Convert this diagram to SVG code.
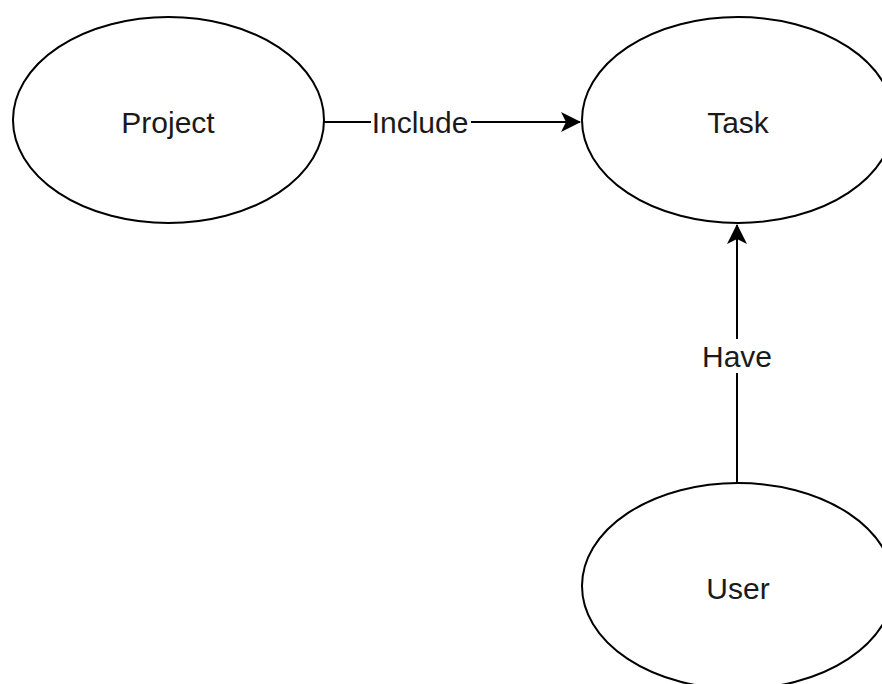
<svg xmlns="http://www.w3.org/2000/svg" width="882" height="684" viewBox="0 0 882 684">
  <style>
    .node ellipse { fill: #ffffff; stroke: #000000; stroke-width: 2; }
    .label { font-family: "Liberation Sans", Arial, sans-serif; font-size: 30px; fill: #1a1a1a; text-anchor: middle; dominant-baseline: central; }
    .edge { fill: none; stroke: #000000; stroke-width: 2; }
    .edge-label-bg { fill: #ffffff; }
  </style>
  <defs>
    <marker id="arrowBig" viewBox="0 0 20 20" refX="19" refY="10" markerWidth="20" markerHeight="20" markerUnits="userSpaceOnUse" orient="auto">
      <path d="M0,0 L20,10 L0,20 L5,10 Z" fill="#000000"/>
    </marker>
  </defs>
  <rect width="882" height="684" fill="#ffffff"/>

  <g id="connectors">
    <g id="edge-include">
      <line class="edge" x1="324" y1="122" x2="580" y2="122" marker-end="url(#arrowBig)"/>
      <rect class="edge-label-bg" x="371" y="104" width="100" height="36"/>
      <text class="label" x="420" y="122">Include</text>
    </g>
    <g id="edge-have">
      <line class="edge" x1="737" y1="483" x2="737" y2="225" marker-end="url(#arrowBig)"/>
      <rect class="edge-label-bg" x="700" y="339" width="74" height="34"/>
      <text class="label" x="737" y="356">Have</text>
    </g>
  </g>

  <g id="node-project" class="node">
    <ellipse cx="168.5" cy="120" rx="155.5" ry="103"/>
    <text class="label" x="168" y="122">Project</text>
  </g>
  <g id="node-task" class="node">
    <ellipse cx="738" cy="120" rx="156" ry="103"/>
    <text class="label" x="738" y="122">Task</text>
  </g>
  <g id="node-user" class="node">
    <ellipse cx="738" cy="586" rx="156" ry="103"/>
    <text class="label" x="738" y="588">User</text>
  </g>
</svg>
